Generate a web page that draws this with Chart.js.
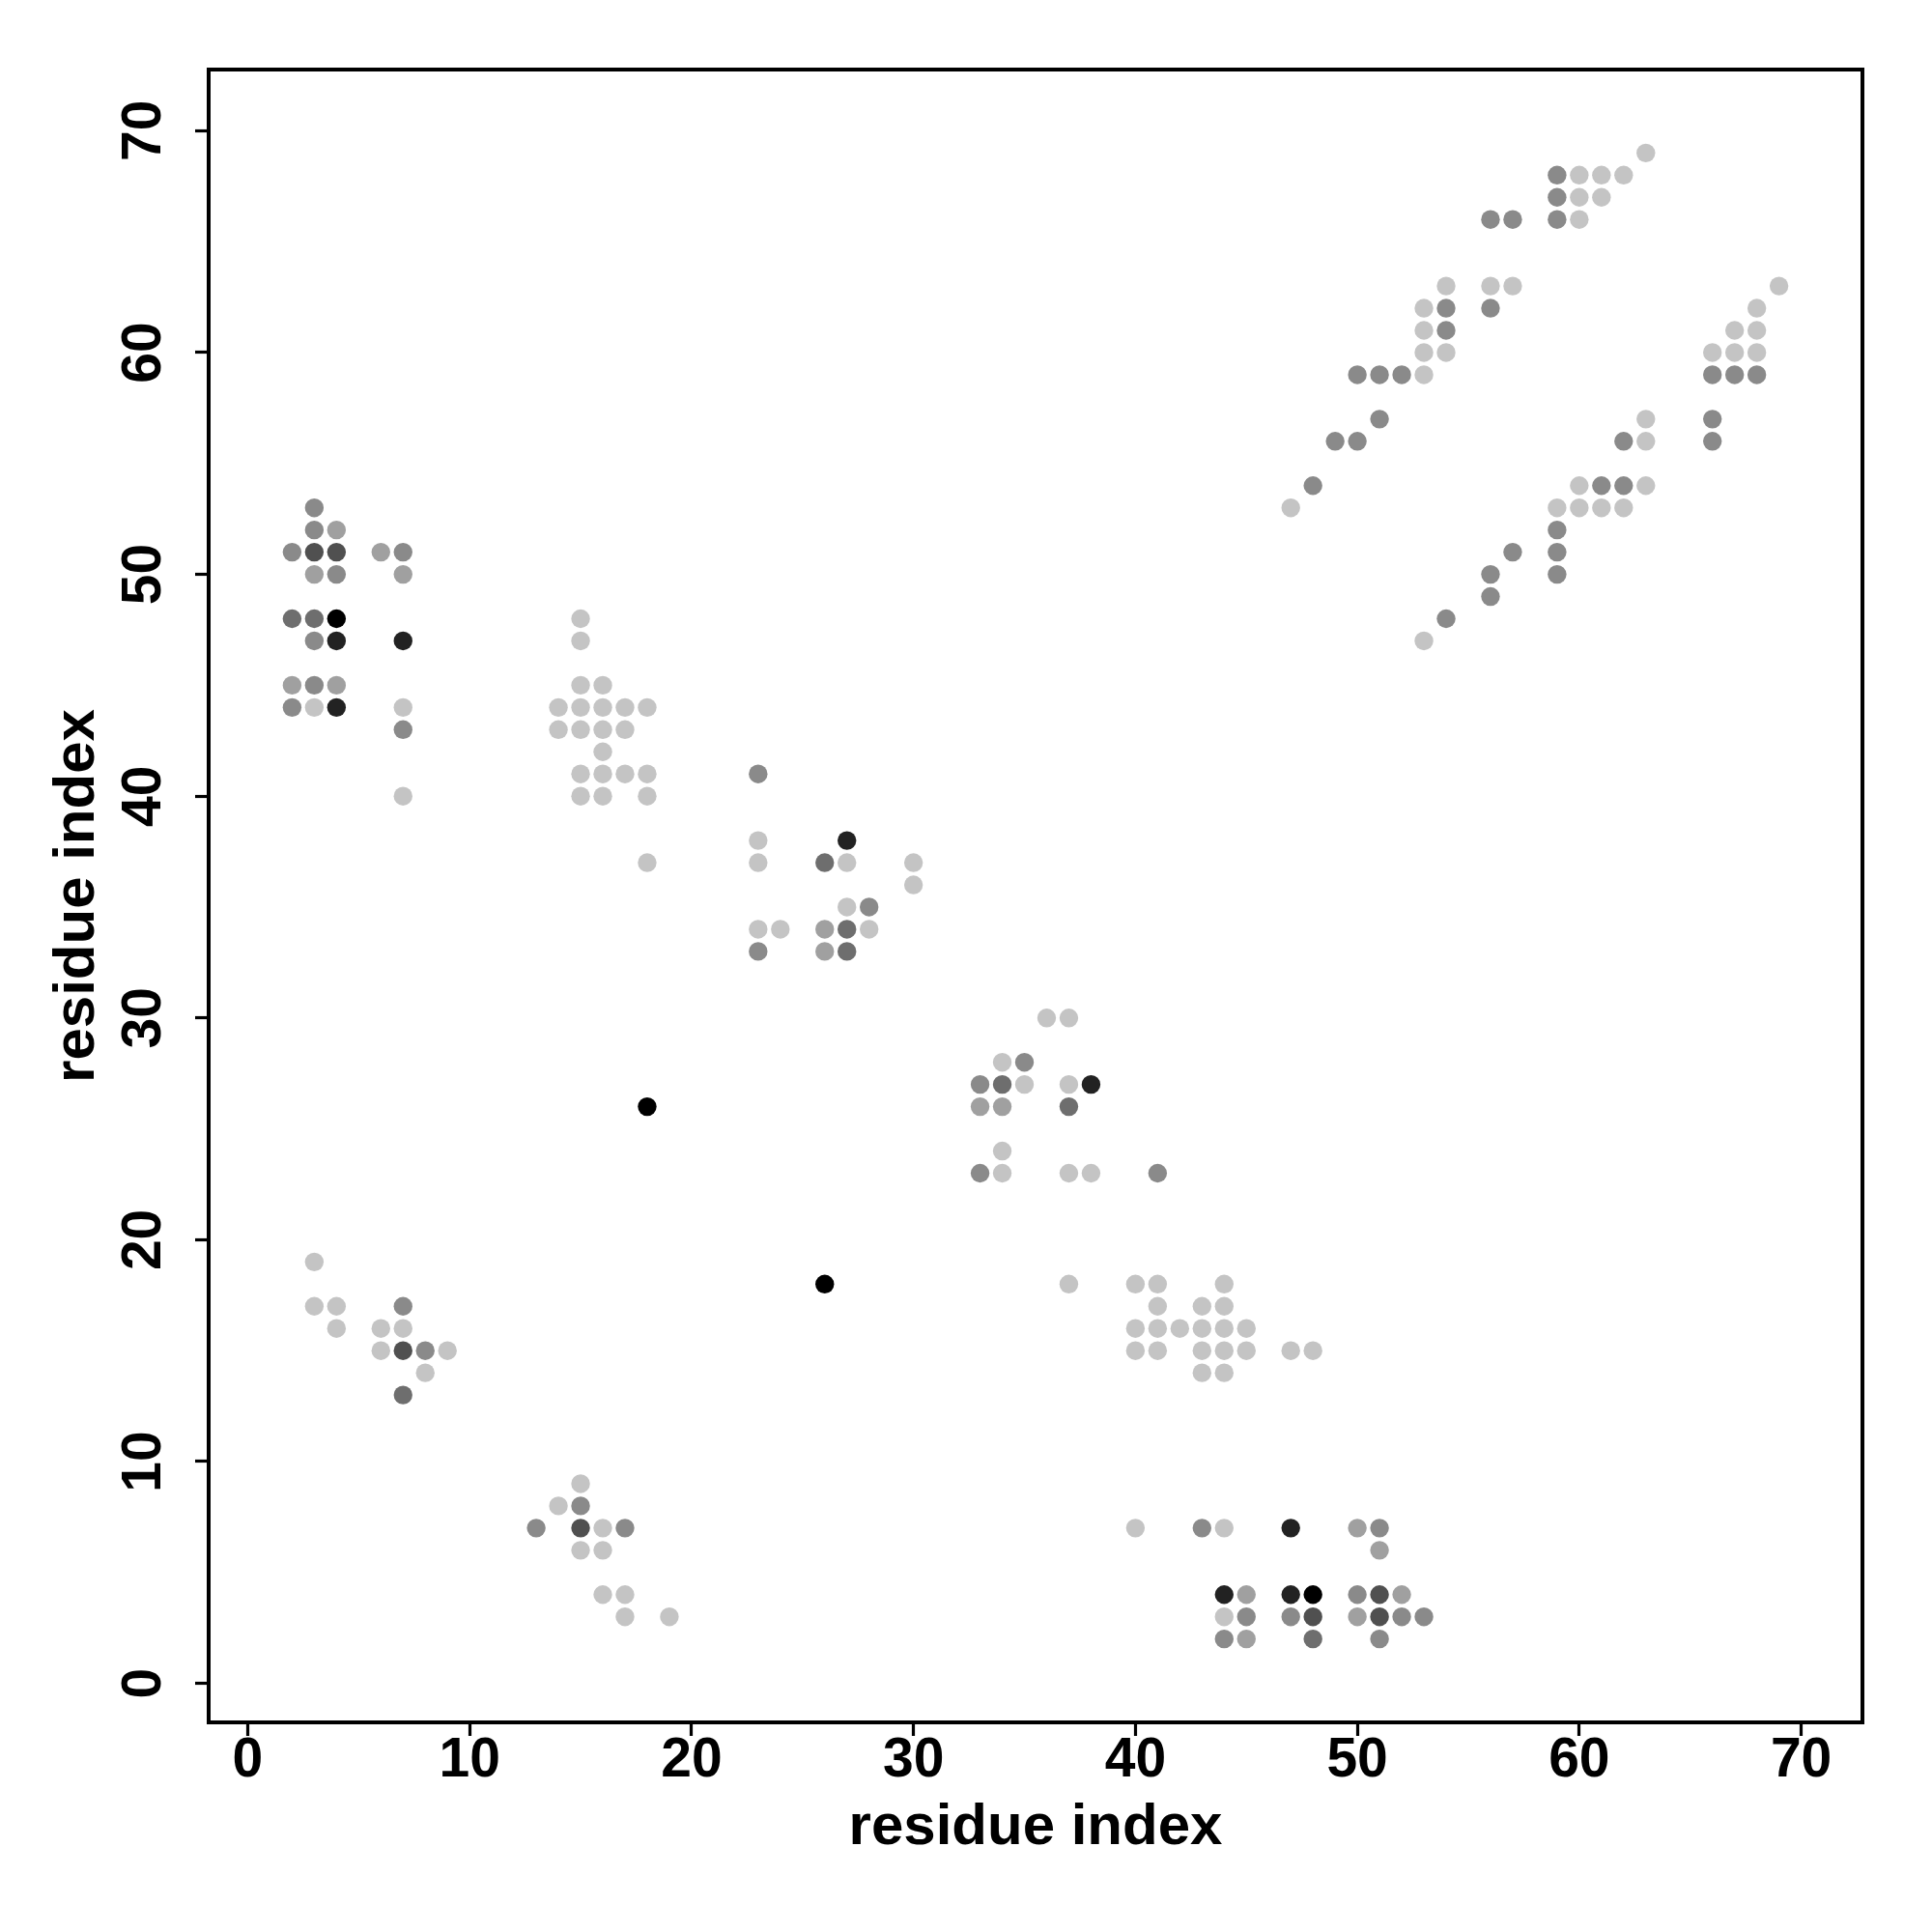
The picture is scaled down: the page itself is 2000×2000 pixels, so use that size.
<!DOCTYPE html>
<html lang="en">
<head>
    <meta charset="UTF-8">
    <title>Residue contact map</title>
    <script src="https://cdn.jsdelivr.net/npm/chart.js"></script>
    <style>
        html, body { margin: 0; padding: 0; background: #fff; }
    </style>
</head>
<body>
    <canvas id="contactChart" width="2000" height="2000"></canvas>

    <script>
        // residue pairs [i, j], grouped by shade from lightest to black
        const shade1 = [
            [3, 44], [7, 44], [7, 40],
            [14, 44], [14, 43], [15, 48], [15, 47], [15, 45], [15, 44], [15, 43], [15, 41], [15, 40],
            [16, 45], [16, 44], [16, 43], [16, 42], [16, 41], [16, 40], [17, 44], [17, 43], [17, 41],
            [18, 44], [18, 41], [18, 40], [18, 37],
            [23, 38], [23, 37], [27, 37], [30, 37], [30, 36], [27, 35], [23, 34], [24, 34], [28, 34],
            [36, 30], [37, 30], [34, 28], [35, 27], [37, 27], [34, 24], [34, 23], [37, 23], [38, 23], [37, 18],
            [40, 18], [41, 18], [44, 18], [41, 17], [43, 17], [44, 17],
            [40, 16], [41, 16], [42, 16], [43, 16], [44, 16], [45, 16],
            [40, 15], [41, 15], [43, 15], [44, 15], [45, 15], [47, 15], [48, 15], [43, 14], [44, 14],
            [3, 19], [3, 17], [4, 17], [4, 16], [6, 16], [7, 16], [6, 15], [9, 15], [8, 14],
            [15, 9], [14, 8], [16, 7], [15, 6], [16, 6], [16, 4], [17, 4], [17, 3], [19, 3],
            [40, 7], [44, 7], [44, 3],
            [47, 53], [53, 59], [53, 60], [54, 60], [53, 61], [53, 62], [54, 63], [56, 63], [57, 63],
            [60, 66], [60, 67], [61, 67], [60, 68], [61, 68], [62, 68], [63, 69],
            [53, 47], [59, 53], [60, 53], [61, 53], [62, 53], [60, 54], [63, 54], [63, 56], [63, 57],
            [66, 60], [67, 60], [68, 60], [67, 61], [68, 61], [68, 62], [69, 63]
        ];
        const shade2 = [
            [4, 52], [6, 51], [3, 50], [7, 50], [2, 45], [4, 45],
            [26, 34], [26, 33], [33, 26], [34, 26],
            [50, 7], [51, 6], [45, 4], [52, 4], [50, 3], [45, 2]
        ];
        const shade3 = [
            [3, 53], [3, 52], [2, 51], [7, 51], [4, 50], [3, 47], [3, 45], [2, 44], [7, 43],
            [23, 41], [28, 35], [23, 33],
            [35, 28], [33, 27], [33, 23], [41, 23],
            [7, 17], [8, 15], [15, 8], [13, 7], [17, 7],
            [43, 7], [51, 7], [50, 4], [45, 3], [47, 3], [52, 3], [53, 3], [44, 2], [51, 2],
            [48, 54], [49, 56], [50, 56], [50, 59], [51, 59], [52, 59], [51, 57], [54, 61], [54, 62],
            [56, 62], [56, 66], [57, 66], [59, 66], [59, 67], [59, 68],
            [54, 48], [56, 49], [56, 50], [57, 51], [59, 50], [59, 51], [59, 52], [61, 54], [62, 54], [62, 56],
            [66, 56], [66, 57], [66, 59], [67, 59], [68, 59]
        ];
        const shade4 = [
            [2, 48], [3, 48], [26, 37], [27, 34], [27, 33], [34, 27], [37, 26], [7, 13], [48, 2]
        ];
        const shade5 = [
            [3, 51], [4, 51], [7, 15], [15, 7], [51, 4], [48, 3], [51, 3]
        ];
        const shade6 = [
            [4, 47], [7, 47], [4, 44], [27, 38], [38, 27], [47, 7], [44, 4], [47, 4]
        ];
        const shade7 = [
            [4, 48], [48, 4], [18, 26], [26, 18]
        ];

        const tickValues = [0, 10, 20, 30, 40, 50, 60, 70];

        const shadeGroups = [shade1, shade2, shade3, shade4, shade5, shade6, shade7];
        const shadeColors = ['#c4c4c4', '#a0a0a0', '#8a8a8a', '#6e6e6e', '#505050', '#222222', '#000000'];

        const datasets = shadeGroups.map((pts, k) => ({
            data: pts.map(p => ({ x: p[0], y: p[1] })),
            backgroundColor: shadeColors[k],
            borderWidth: 0,
            pointRadius: 9.7,
            pointHoverRadius: 9.7
        }));

        const fontFamily = '"Liberation Sans", Arial, Helvetica, sans-serif';

        // black frame around the plotting region
        const frame = {
            id: 'frame',
            afterDraw(chart) {
                const { ctx, chartArea: a } = chart;
                ctx.save();
                ctx.strokeStyle = '#000';
                ctx.lineWidth = 4;
                ctx.strokeRect(a.left, a.top, a.right - a.left, a.bottom - a.top);
                ctx.restore();
            }
        };

        const setTicks = scale => {
            scale.ticks = tickValues.map(v => ({ value: v }));
        };

        new Chart(document.getElementById('contactChart'), {
            type: 'scatter',
            data: { datasets },
            plugins: [frame],
            options: {
                responsive: false,
                devicePixelRatio: 1,
                animation: false,
                layout: { padding: { left: 0, top: 72, right: 72, bottom: 0 } },
                plugins: {
                    legend: { display: false },
                    tooltip: { enabled: false }
                },
                scales: {
                    x: {
                        type: 'linear',
                        min: -1.76,
                        max: 72.76,
                        afterBuildTicks: setTicks,
                        afterFit: s => { s.height = 217; },
                        border: { display: false },
                        grid: {
                            drawOnChartArea: false,
                            drawTicks: true,
                            tickLength: 14,
                            tickWidth: 3.2,
                            tickColor: '#000'
                        },
                        ticks: {
                            autoSkip: false,
                            maxRotation: 0,
                            padding: -8,
                            color: '#000',
                            font: { family: fontFamily, size: 57, weight: 'bold' }
                        },
                        title: {
                            display: true,
                            text: 'residue index',
                            color: '#000',
                            padding: { top: 0, bottom: 72 },
                            font: { family: fontFamily, size: 60, weight: 'bold' }
                        }
                    },
                    y: {
                        type: 'linear',
                        min: -1.76,
                        max: 72.76,
                        afterBuildTicks: setTicks,
                        afterFit: s => { s.width = 216; },
                        border: { display: false },
                        grid: {
                            drawOnChartArea: false,
                            drawTicks: true,
                            tickLength: 14,
                            tickWidth: 3.2,
                            tickColor: '#000'
                        },
                        ticks: {
                            autoSkip: false,
                            minRotation: 90,
                            maxRotation: 90,
                            crossAlign: 'center',
                            padding: 20,
                            color: '#000',
                            font: { family: fontFamily, size: 57, weight: 'bold' }
                        },
                        title: {
                            display: true,
                            text: 'residue index',
                            color: '#000',
                            padding: { top: 44, bottom: 0 },
                            font: { family: fontFamily, size: 60, weight: 'bold' }
                        }
                    }
                }
            }
        });
    </script>
</body>
</html>
